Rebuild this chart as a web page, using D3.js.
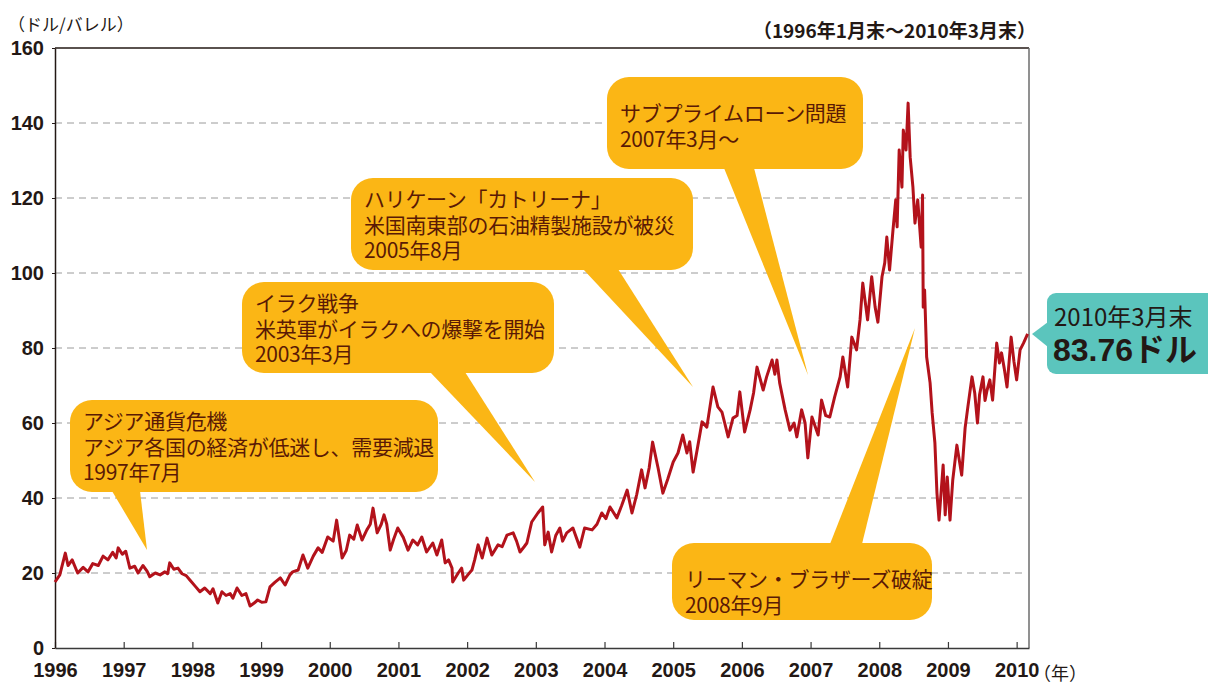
<!DOCTYPE html>
<html>
<head>
<meta charset="utf-8">
<script src="https://cdnjs.cloudflare.com/ajax/libs/d3/7.8.5/d3.min.js"></script>
<style>
  body { margin: 0; background: #fff; }
  svg text { font-family: "Liberation Sans", "Noto Sans CJK JP", sans-serif; }
  .jp { font-family: "Noto Sans CJK JP", sans-serif; }
</style>
</head>
<body>
<div id="chart"></div>
<script>
// WTI readings (decimal year, $/barrel)
var dates = [
  1996.00, 1996.07, 1996.15, 1996.19, 1996.25, 1996.33, 1996.41, 1996.48, 1996.55, 1996.63,
  1996.70, 1996.77, 1996.84, 1996.89, 1996.92, 1996.98, 1997.03, 1997.09, 1997.16, 1997.21,
  1997.28, 1997.34, 1997.38, 1997.46, 1997.53, 1997.60, 1997.64, 1997.67, 1997.73, 1997.79,
  1997.85, 1997.91, 1997.97, 1998.04, 1998.11, 1998.18, 1998.26, 1998.30, 1998.37, 1998.43,
  1998.49, 1998.55, 1998.59, 1998.65, 1998.72, 1998.78, 1998.84, 1998.90, 1998.95, 1999.01,
  1999.07, 1999.13, 1999.20, 1999.28, 1999.35, 1999.42, 1999.46, 1999.54, 1999.61, 1999.68,
  1999.76, 1999.83, 1999.89, 1999.97, 2000.05, 2000.10, 2000.18, 2000.24, 2000.29, 2000.35,
  2000.40, 2000.47, 2000.54, 2000.59, 2000.63, 2000.69, 2000.75, 2000.79, 2000.83, 2000.88,
  2000.93, 2000.99, 2001.07, 2001.14, 2001.21, 2001.28, 2001.34, 2001.41, 2001.50, 2001.56,
  2001.63, 2001.68, 2001.73, 2001.78, 2001.79, 2001.87, 2001.92, 2001.95, 2002.01, 2002.07,
  2002.11, 2002.16, 2002.22, 2002.29, 2002.36, 2002.45, 2002.51, 2002.58, 2002.67, 2002.72,
  2002.77, 2002.83, 2002.87, 2002.94, 2003.03, 2003.10, 2003.13, 2003.18, 2003.23, 2003.29,
  2003.35, 2003.39, 2003.45, 2003.54, 2003.64, 2003.71, 2003.82, 2003.89, 2003.96, 2004.02,
  2004.08, 2004.18, 2004.25, 2004.33, 2004.40, 2004.47, 2004.54, 2004.59, 2004.65, 2004.70,
  2004.78, 2004.85, 2004.92, 2005.00, 2005.07, 2005.14, 2005.20, 2005.24, 2005.29, 2005.35,
  2005.42, 2005.49, 2005.58, 2005.65, 2005.71, 2005.75, 2005.80, 2005.87, 2005.93, 2005.97,
  2006.04, 2006.12, 2006.17, 2006.22, 2006.31, 2006.36, 2006.44, 2006.48, 2006.51, 2006.55,
  2006.63, 2006.70, 2006.76, 2006.80, 2006.87, 2006.92, 2006.96, 2007.02, 2007.11, 2007.16,
  2007.22, 2007.28, 2007.35, 2007.43, 2007.47, 2007.54, 2007.60, 2007.67, 2007.72, 2007.76,
  2007.83, 2007.89, 2007.94, 2007.98, 2008.04, 2008.08, 2008.11, 2008.15, 2008.20, 2008.24,
  2008.26, 2008.29, 2008.33, 2008.35, 2008.39, 2008.42, 2008.45, 2008.49, 2008.52, 2008.56,
  2008.61, 2008.63, 2008.64, 2008.66, 2008.69, 2008.74, 2008.77, 2008.81, 2008.84, 2008.87,
  2008.93, 2008.96, 2008.99, 2009.03, 2009.07, 2009.13, 2009.20, 2009.25, 2009.29, 2009.35,
  2009.39, 2009.43, 2009.46, 2009.51, 2009.54, 2009.57, 2009.61, 2009.65, 2009.71, 2009.75,
  2009.78, 2009.82, 2009.86, 2009.92, 2009.96, 2010.00, 2010.05, 2010.10, 2010.16
];
var prices = [
  17.6, 19.5, 25.3, 22.0, 23.5, 20.0, 21.5, 20.3, 22.5, 22.0,
  24.5, 23.5, 25.5, 24.0, 26.7, 25.0, 25.8, 21.3, 21.8, 20.0,
  22.0, 20.5, 19.0, 20.0, 19.5, 20.3, 19.8, 22.7, 21.0, 21.3,
  19.8, 19.3, 18.0, 16.5, 15.0, 16.0, 14.5, 15.8, 12.0, 15.0,
  14.0, 14.5, 13.3, 16.0, 14.0, 14.5, 11.2, 12.0, 12.8, 12.2,
  12.3, 16.3, 17.5, 18.7, 16.8, 19.5, 20.3, 20.8, 24.8, 21.3,
  24.5, 26.7, 25.5, 29.6, 28.5, 34.1, 24.0, 26.0, 30.1, 29.0,
  32.8, 28.8, 31.5, 33.0, 37.3, 30.7, 33.0, 35.5, 33.0, 26.1,
  29.0, 32.0, 29.5, 26.1, 28.8, 27.5, 29.6, 25.6, 28.0, 24.8,
  28.8, 22.7, 23.5, 21.3, 17.6, 20.0, 21.3, 18.1, 19.5, 20.8,
  23.5, 27.5, 24.0, 29.3, 24.8, 27.5, 27.0, 30.1, 30.7, 28.5,
  25.6, 27.0, 28.0, 33.6, 36.0, 37.6, 27.5, 30.9, 25.6, 30.0,
  32.0, 28.5, 30.7, 32.0, 26.9, 32.0, 31.5, 33.0, 36.0, 34.5,
  37.6, 34.7, 38.0, 42.1, 36.0, 41.0, 47.5, 42.7, 48.0, 54.9,
  48.0, 41.3, 45.0, 49.6, 52.0, 56.8, 52.0, 55.0, 46.9, 53.0,
  60.3, 58.9, 69.6, 64.3, 62.9, 60.0, 56.3, 61.3, 62.0, 68.3,
  57.6, 63.5, 68.0, 74.9, 68.8, 72.3, 76.8, 73.0, 76.8, 70.7,
  63.5, 58.1, 60.0, 56.3, 63.5, 60.0, 50.7, 61.6, 56.8, 66.1,
  62.0, 61.6, 66.9, 72.3, 77.6, 69.6, 82.9, 79.5, 87.5, 97.3,
  87.5, 99.0, 90.9, 86.9, 99.0, 102.7, 109.6, 100.8, 111.5, 119.5,
  112.3, 132.8, 122.9, 138.1, 132.8, 145.3, 130.9, 122.9, 113.3, 119.5,
  106.9, 120.8, 90.9, 95.5, 77.6, 70.7, 62.7, 54.7, 41.3, 34.1,
  48.8, 35.5, 45.6, 34.1, 44.8, 54.1, 46.1, 58.7, 64.3, 72.3,
  68.0, 60.0, 67.5, 72.3, 66.0, 68.8, 71.5, 66.1, 81.3, 76.0,
  78.7, 74.5, 69.6, 82.9, 76.5, 71.5, 79.5, 81.3, 83.76
];
var yTicks = [0, 20, 40, 60, 80, 100, 120, 140, 160];
var xTicks = [1996, 1997, 1998, 1999, 2000, 2001, 2002, 2003, 2004, 2005, 2006, 2007, 2008, 2009, 2010];

var notes = [
  { lines: ["アジア通貨危機", "アジア各国の経済が低迷し、需要減退", "1997年7月"],
    box: [70, 400, 438, 492], tail: [[112, 491], [140, 491], [147, 550]] },
  { lines: ["イラク戦争", "米英軍がイラクへの爆撃を開始", "2003年3月"],
    box: [242, 282, 554, 373], tail: [[430, 372], [465, 372], [535, 482]] },
  { lines: ["ハリケーン「カトリーナ」", "米国南東部の石油精製施設が被災", "2005年8月"],
    box: [351, 178, 693, 270], tail: [[583, 269], [618, 269], [693, 387]] },
  { lines: ["サブプライムローン問題", "2007年3月～"],
    box: [607, 77, 863, 169], tail: [[724, 168], [754, 168], [808, 375]] },
  { lines: ["リーマン・ブラザーズ破綻", "2008年9月"],
    box: [672, 543, 932, 620], tail: [[830, 544], [862, 544], [915, 328]] }
];

var W = 1208, H = 682;
var pLeft = 55, pRight = 1029, pTop = 48, pBottom = 648;

var svg = d3.select("#chart").append("svg")
    .attr("width", W)
    .attr("height", H);

var x = d3.scaleLinear().domain([1996, 2010.18]).range([pLeft, pRight]);
var y = d3.scaleLinear().domain([0, 160]).range([pBottom, pTop]);

// grid lines
svg.append("g").selectAll("line")
    .data(yTicks.filter(function (d) { return d > 0 && d < 160; }))
    .enter().append("line")
    .attr("x1", pLeft).attr("x2", pRight - 3)
    .attr("y1", function (d) { return y(d); })
    .attr("y2", function (d) { return y(d); })
    .attr("stroke", "#9a9a9a")
    .attr("stroke-width", 1)
    .attr("stroke-dasharray", "7,5");

// frame
svg.append("line").attr("x1", pLeft).attr("x2", pRight).attr("y1", pTop).attr("y2", pTop)
    .attr("stroke", "#231815").attr("stroke-width", 1.5);
svg.append("line").attr("x1", pRight).attr("x2", pRight).attr("y1", pTop).attr("y2", pBottom)
    .attr("stroke", "#6d6d6d").attr("stroke-width", 1.5);

// x axis
var xAxis = svg.append("g")
    .attr("transform", "translate(0," + pBottom + ")")
    .call(d3.axisBottom(x).tickValues(xTicks).tickFormat(d3.format("d")).tickSizeInner(-6).tickSizeOuter(0).tickPadding(15));
xAxis.select(".domain").attr("stroke", "#3a3a3a").attr("stroke-width", 1.5);
xAxis.selectAll(".tick line").attr("stroke", "#3a3a3a").attr("stroke-width", 1.2);
xAxis.selectAll(".tick text")
    .attr("fill", "#231815")
    .style("font-size", "20px")
    .style("font-weight", "bold");

// y axis
var yAxis = svg.append("g")
    .attr("transform", "translate(" + pLeft + ",0)")
    .call(d3.axisLeft(y).tickValues(yTicks).tickSizeInner(3).tickSizeOuter(0).tickPadding(8));
yAxis.select(".domain").attr("stroke", "#231815").attr("stroke-width", 1.5);
yAxis.selectAll(".tick line").attr("stroke", "#231815");
yAxis.selectAll(".tick text")
    .attr("fill", "#231815")
    .style("font-size", "20px")
    .style("font-weight", "bold");

// unit labels
svg.append("text").attr("class", "jp")
    .attr("x", 8).attr("y", 31)
    .attr("fill", "#231815").style("font-size", "17px")
    .text("（ドル/バレル）");
svg.append("text").attr("class", "jp")
    .attr("x", 1036).attr("y", 38).attr("text-anchor", "end")
    .attr("fill", "#231815").style("font-size", "19px").style("font-weight", "bold")
    .text("（1996年1月末～2010年3月末）");
svg.append("text").attr("class", "jp")
    .attr("x", 1033).attr("y", 680)
    .attr("fill", "#231815").style("font-size", "18px")
    .text("（年）");

// price line
var line = d3.line()
    .x(function (d, i) { return x(dates[i]); })
    .y(function (d) { return y(d); });

svg.append("path")
    .datum(prices)
    .attr("d", line)
    .attr("fill", "none")
    .attr("stroke", "#b3121b")
    .attr("stroke-width", 3)
    .attr("stroke-linejoin", "round");

// callouts
var yellow = "#fbb615";
notes.forEach(function (n) {
    var g = svg.append("g");
    g.append("polygon")
        .attr("points", n.tail.map(function (p) { return p.join(","); }).join(" "))
        .attr("fill", yellow);
    g.append("rect")
        .attr("x", n.box[0]).attr("y", n.box[1])
        .attr("width", n.box[2] - n.box[0]).attr("height", n.box[3] - n.box[1])
        .attr("rx", 22).attr("ry", 22)
        .attr("fill", yellow);
    var first = n.lines.length == 3 ? n.box[1] + 29 : n.box[1] + 44;
    n.lines.forEach(function (t, i) {
        g.append("text").attr("class", "jp")
            .attr("x", n.box[0] + 13)
            .attr("y", first + i * 25.5)
            .attr("fill", "#5a1a05")
            .style("font-size", "21px")
            .style("letter-spacing", "-0.3px")
            .text(t);
    });
});

// last value tag
var teal = "#5bc5bd";
var lastY = y(prices[prices.length - 1]);
var tag = svg.append("g");
tag.append("polygon")
    .attr("points", "1048,322 1032," + lastY + " 1048,347")
    .attr("fill", teal);
tag.append("rect")
    .attr("x", 1047).attr("y", 293).attr("width", 175).attr("height", 81)
    .attr("rx", 9).attr("fill", teal);
tag.append("text").attr("class", "jp")
    .attr("x", 1054).attr("y", 326)
    .attr("fill", "#231815").style("font-size", "24px")
    .text("2010年3月末");
tag.append("text")
    .attr("x", 1053).attr("y", 361)
    .attr("fill", "#231815").style("font-size", "32px").style("font-weight", "bold")
    .text(prices[prices.length - 1].toFixed(2) + "ドル");
</script>
</body>
</html>
